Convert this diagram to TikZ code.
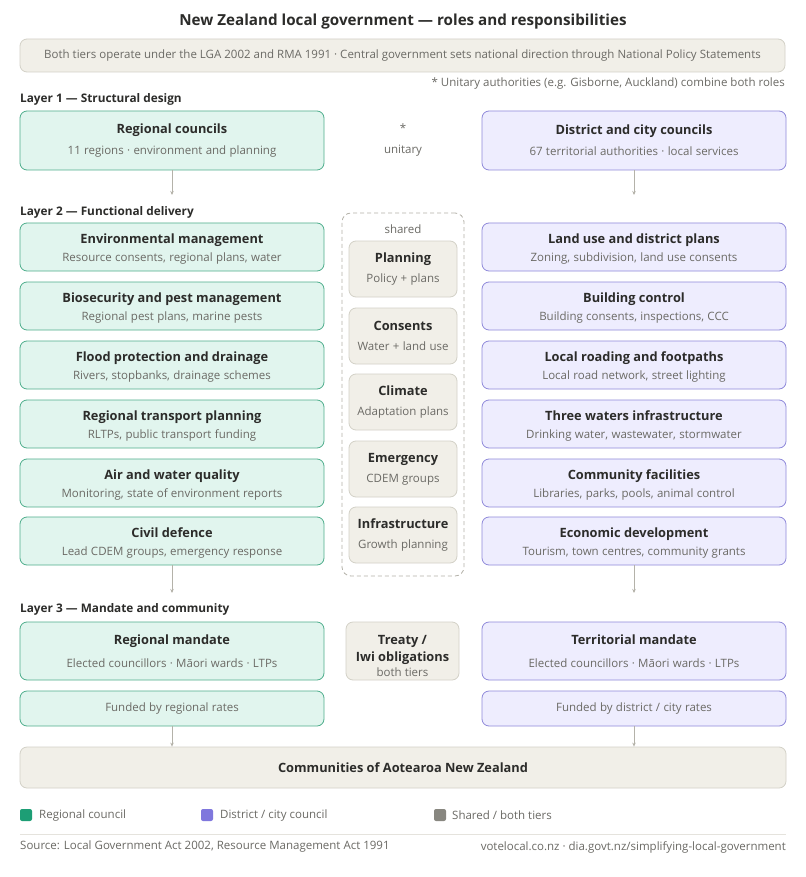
\documentclass[tikz,border=0pt]{standalone}
\usepackage{fontspec}
\setmainfont{Open Sans}
\usetikzlibrary{arrows.meta}
\definecolor{ink}{HTML}{2C2C2A}
\definecolor{muted}{HTML}{6B6A65}
\definecolor{gfill}{HTML}{E1F5EE}
\definecolor{gline}{HTML}{4FAE8C}
\definecolor{pfill}{HTML}{EEEDFE}
\definecolor{pline}{HTML}{8F89DA}
\definecolor{bfill}{HTML}{F1EFE8}
\definecolor{bline}{HTML}{D3D1C7}
\definecolor{arr}{HTML}{B4B2A9}
\definecolor{lgreen}{HTML}{1D9E75}
\definecolor{lpurple}{HTML}{7F77DD}
\definecolor{lgray}{HTML}{888780}
\newcommand\ttl[1]{{\fontsize{12.8}{16}\selectfont\bfseries\color{ink}#1}}
\newcommand\ttlx[1]{\ttl{\rule{0pt}{14pt}#1}}
\newcommand\sbt[1]{{\fontsize{11.5}{14}\selectfont\color{muted}#1}}
\tikzset{
  basebox/.style={rounded corners=7pt, line width=0.8pt, inner sep=0pt, align=center, text width=#1, minimum width=#1},
  gbox/.style={basebox=304pt, fill=gfill, draw=gline},
  pbox/.style={basebox=304pt, fill=pfill, draw=pline},
  sbox/.style={basebox=108pt, fill=bfill, draw=bline},
  layer/.style={anchor=west, inner sep=0pt, font=\fontsize{11.8}{14}\selectfont\bfseries, text=ink},
  conn/.style={draw=arr, line width=0.8pt, -{Stealth[length=4pt,width=3.5pt]}},
  lsq/.style={minimum size=12pt, inner sep=0pt, rounded corners=2pt},
  ltext/.style={anchor=west, inner sep=0pt, font=\fontsize{11.5}{14}\selectfont, text=muted},
}
\begin{document}
\begin{tikzpicture}[x=1pt,y=-1pt]
\useasboundingbox[fill=white] (0,0) rectangle (805,877);
% title
\node[inner sep=0pt, font=\fontsize{15.2}{19}\selectfont\bfseries, text=ink] (title) at (403,22) {New Zealand local government — roles and responsibilities};
\node[rounded corners=7pt, fill=bfill, draw=bline, line width=0.8pt, minimum width=765pt, minimum height=33pt, inner sep=0pt, font=\fontsize{11.5}{14}\selectfont, text=muted] (note) at (402.5,55.5) {Both tiers operate under the LGA 2002 and RMA 1991 · Central government sets national direction through National Policy Statements};
\node[anchor=east, inner sep=0pt, font=\fontsize{11.5}{14}\selectfont, text=muted] (unit) at (785,84) {* Unitary authorities (e.g. Gisborne, Auckland) combine both roles};

% Layer 1
\node[layer] (l1) at (20,99) {Layer 1 — Structural design};
\node[gbox, minimum height=59pt] (rc) at (172,140.5) {\ttl{Regional councils}\\[9pt]\sbt{11 regions · environment and planning}};
\node[pbox, minimum height=59pt] (dc) at (634,140.5) {\ttl{District and city councils}\\[9pt]\sbt{67 territorial authorities · local services}};
\node[inner sep=0pt, align=center, font=\fontsize{11.5}{14}\selectfont, text=muted] (star) at (403,140) {*\\[7pt]unitary};
\coordinate (a1) at (172,195);
\coordinate (a2) at (634,195);
\draw[conn] (rc.south) -- (a1);
\draw[conn] (dc.south) -- (a2);

% Layer 2
\node[layer] (l2) at (20,212) {Layer 2 — Functional delivery};
\node[draw=arr, dashed, dash pattern=on 4pt off 3pt, rounded corners=9pt, line width=0.8pt, minimum width=122pt, minimum height=363pt, inner sep=0pt] (shared) at (403,394.5) {};
\node[inner sep=0pt, font=\fontsize{11.5}{14}\selectfont, text=muted] (sharedlbl) at (403,229) {shared};

\node[gbox, minimum height=48pt] (g1) at (172,247) {\ttlx{Environmental management}\\[6pt]\sbt{Resource consents, regional plans, water}};
\node[gbox, minimum height=48pt] (g2) at (172,306) {\ttlx{Biosecurity and pest management}\\[6pt]\sbt{Regional pest plans, marine pests}};
\node[gbox, minimum height=48pt] (g3) at (172,365) {\ttlx{Flood protection and drainage}\\[6pt]\sbt{Rivers, stopbanks, drainage schemes}};
\node[gbox, minimum height=48pt] (g4) at (172,424) {\ttlx{Regional transport planning}\\[6pt]\sbt{RLTPs, public transport funding}};
\node[gbox, minimum height=48pt] (g5) at (172,483) {\ttlx{Air and water quality}\\[6pt]\sbt{Monitoring, state of environment reports}};
\node[gbox, minimum height=48pt] (g6) at (172,541) {\ttlx{Civil defence}\\[6pt]\sbt{Lead CDEM groups, emergency response}};

\node[pbox, minimum height=48pt] (p1) at (634,247) {\ttlx{Land use and district plans}\\[6pt]\sbt{Zoning, subdivision, land use consents}};
\node[pbox, minimum height=48pt] (p2) at (634,306) {\ttlx{Building control}\\[6pt]\sbt{Building consents, inspections, CCC}};
\node[pbox, minimum height=48pt] (p3) at (634,365) {\ttlx{Local roading and footpaths}\\[6pt]\sbt{Local road network, street lighting}};
\node[pbox, minimum height=48pt] (p4) at (634,424) {\ttlx{Three waters infrastructure}\\[6pt]\sbt{Drinking water, wastewater, stormwater}};
\node[pbox, minimum height=48pt] (p5) at (634,483) {\ttlx{Community facilities}\\[6pt]\sbt{Libraries, parks, pools, animal control}};
\node[pbox, minimum height=48pt] (p6) at (634,541) {\ttlx{Economic development}\\[6pt]\sbt{Tourism, town centres, community grants}};

\node[sbox, minimum height=56pt] (s1) at (403,269) {\ttl{Planning}\\[8pt]\sbt{Policy + plans}};
\node[sbox, minimum height=56pt] (s2) at (403,336) {\ttl{Consents}\\[8pt]\sbt{Water + land use}};
\node[sbox, minimum height=56pt] (s3) at (403,402) {\ttl{Climate}\\[8pt]\sbt{Adaptation plans}};
\node[sbox, minimum height=56pt] (s4) at (403,469) {\ttl{Emergency}\\[8pt]\sbt{CDEM groups}};
\node[sbox, minimum height=56pt] (s5) at (403,535) {\ttl{Infrastructure}\\[8pt]\sbt{Growth planning}};

\coordinate (a3) at (172,593);
\coordinate (a4) at (634,593);
\draw[conn] (g6.south) -- (a3);
\draw[conn] (p6.south) -- (a4);

% Layer 3
\node[layer] (l3) at (20,609) {Layer 3 — Mandate and community};
\node[gbox, minimum height=58pt] (rm) at (172,651) {\ttl{Regional mandate}\\[11pt]\sbt{Elected councillors · Māori wards · LTPs}};
\node[pbox, minimum height=58pt] (tm) at (634,651) {\ttl{Territorial mandate}\\[11pt]\sbt{Elected councillors · Māori wards · LTPs}};
\node[basebox=113pt, fill=bfill, draw=bline, minimum height=58pt] (treaty) at (402.5,651) {};
\node[inner sep=0pt, align=center, font=\fontsize{12.8}{17}\selectfont\bfseries, text=ink] (treatytxt) at (402.5,656) {Treaty /\\Iwi obligations\\[-1.5pt]\sbt{\mdseries both tiers}};
\node[gbox, minimum height=35pt] (rf) at (172,708.5) {\sbt{Funded by regional rates}};
\node[pbox, minimum height=35pt] (tf) at (634,708.5) {\sbt{Funded by district / city rates}};
\node[rounded corners=7pt, fill=bfill, draw=bline, line width=0.8pt, minimum width=766pt, minimum height=41pt, inner sep=0pt] (comm) at (403,767.5) {\ttl{Communities of Aotearoa New Zealand}};
\draw[conn] (rf.south) -- (rf.south |- comm.north);
\draw[conn] (tf.south) -- (tf.south |- comm.north);

% legend
\node[lsq, fill=lgreen] (lg1) at (26,815) {};
\node[ltext] (lt1) at (39,815.5) {Regional council};
\node[lsq, fill=lpurple] (lg2) at (207,815) {};
\node[ltext] (lt2) at (220,815.5) {District / city council};
\node[lsq, fill=lgray] (lg3) at (440,815) {};
\node[ltext] (lt3) at (452,815.5) {Shared / both tiers};
\coordinate (sepL) at (20,834);
\coordinate (sepR) at (786,834);
\draw[draw=bline!60, line width=0.8pt] (sepL) -- (sepR);
\node[ltext] (src) at (20,847) {Source: Local Government Act 2002, Resource Management Act 1991};
\node[ltext, anchor=east] (url) at (786,847) {votelocal.co.nz · dia.govt.nz/simplifying-local-government};
\end{tikzpicture}
\end{document}
